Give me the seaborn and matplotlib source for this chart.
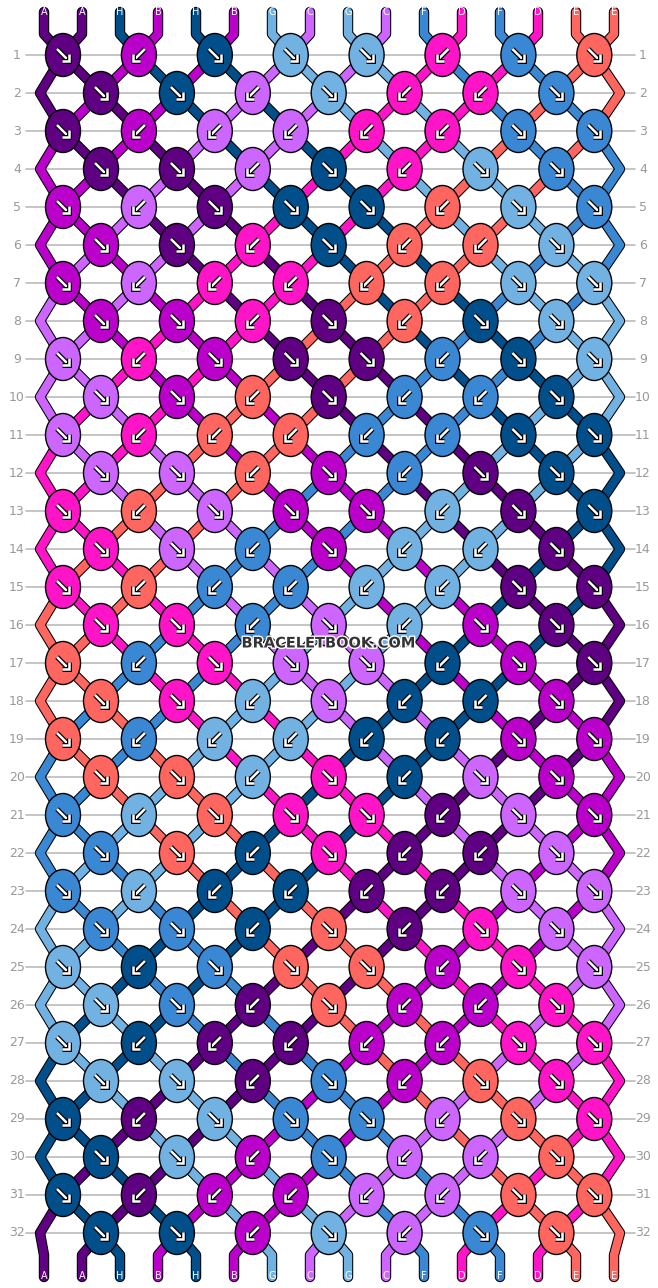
import matplotlib
matplotlib.use("Agg")
import matplotlib.pyplot as plt
import matplotlib.patheffects as pe
from matplotlib.patches import Ellipse
import seaborn as sns

# strings, left to right, as they enter the pattern
strings = ["A", "A", "H", "B", "H", "B", "G", "C", "G", "C", "F", "D", "F", "D", "E", "E"]
colors = {
    "A": "#5f0082", "H": "#004e8a", "B": "#bb00cc", "G": "#72b2e2",
    "C": "#cc66ff", "F": "#3a88d4", "D": "#ff14c8", "E": "#ff6660",
}
# knot arrows per row: R = forward (↘), L = backward (↙)
rows = [
    "RLRRRLRR", "RRLRLLR", "RLLLLLRR", "RRLRLRR",
    "RLRRRLRR", "RRLRLLR", "RLLLLLRR", "RRLRLRR",
    "RLRRRLRR", "RRLRLLR", "RLLLLLRR", "RRLRLRR",
    "RLRRRLRR", "RRLRLLR", "RLLLLLRR", "RRLRLRR",
    "RLRRRLRR", "RRLRLLR", "RLLLLLRR", "RRLRLRR",
    "RLRRRLRR", "RRLRLLR", "RLLLLLRR", "RRLRLRR",
    "RLRRRLRR", "RRLRLLR", "RLLLLLRR", "RRLRLRR",
    "RLRRRLRR", "RRLRLLR", "RLLLLLRR", "RRLRLRR",
]

sns.set_theme(style="white")
fig = plt.figure(figsize=(6.58, 12.88), dpi=100)
ax = fig.add_axes([0, 0, 1, 1])
ax.set_xlim(0, 658)
ax.set_ylim(1288, 0)
ax.axis("off")

def row_y(r):
    return 55 + 38 * r

def knot_x(r, k):
    return (63 if r % 2 == 0 else 101) + 75.9 * k

def slot_x(p):
    return 44 + 38 * p

# simulate
order = list(range(16))  # order[p] = string index at position p
paths = {i: [(slot_x(i), 12), (slot_x(i), 34)] for i in range(16)}
knots = []
for r, arrows in enumerate(rows):
    y = row_y(r)
    if r % 2 == 1:
        paths[order[0]].append((40, y))
        paths[order[15]].append((620, y))
    offset = 0 if r % 2 == 0 else 1
    new = order[:]
    for k, a in enumerate(arrows):
        p = offset + 2 * k
        left, right = order[p], order[p + 1]
        x = knot_x(r, k)
        paths[left].append((x, y))
        paths[right].append((x, y))
        c = strings[left] if a == "R" else strings[right]
        knots.append((x, y, colors[c], a))
        new[p], new[p + 1] = right, left
    order = new
for p, i in enumerate(order):
    paths[i] += [(slot_x(p), 1255), (slot_x(p), 1277)]

# row guides and numbers
for r in range(len(rows)):
    y = row_y(r)
    ax.plot([26, 635], [y, y], color="#bbbbbb", lw=1.2, zorder=0)
    ax.text(17, y, str(r + 1), ha="center", va="center", color="#999999", fontsize=9)
    ax.text(643, y, str(r + 1), ha="center", va="center", color="#999999", fontsize=9)

# threads
for i in range(16):
    xs, ys = zip(*paths[i])
    ax.plot(xs, ys, color="black", lw=7.5, solid_capstyle="round", solid_joinstyle="round", zorder=1)
    ax.plot(xs, ys, color=colors[strings[i]], lw=6, solid_capstyle="round", solid_joinstyle="round", zorder=2)
    ax.text(slot_x(i), 12, strings[i], ha="center", va="center", color="white", fontsize=7, zorder=3)
for p, i in enumerate(order):
    ax.text(slot_x(p), 1276, strings[i], ha="center", va="center", color="white", fontsize=7, zorder=3)

# knots
stroke = [pe.Stroke(linewidth=3.6, foreground="black"), pe.Normal()]
for x, y, c, a in knots:
    ax.add_patch(Ellipse((x, y), 35, 43, facecolor=c, edgecolor="black", lw=1, zorder=4))
    d = 1 if a == "R" else -1
    sx, ex = x - 6 * d, x + 6 * d
    sy, ey = y - 6, y + 6
    ax.plot([sx, ex], [sy, ey], color="white", lw=1.8, solid_capstyle="butt",
            zorder=5, path_effects=stroke)
    ax.plot([ex - 7 * d, ex, ex], [ey, ey, ey - 7], color="white", lw=1.8,
            solid_joinstyle="miter", solid_capstyle="butt", zorder=6, path_effects=stroke)

ax.text(329, 643, "BRACELETBOOK.COM", ha="center", va="center", fontsize=10.5,
        fontweight="bold", color="#333333", zorder=7,
        path_effects=[pe.withStroke(linewidth=2, foreground="white")])

fig.savefig("out.png", dpi=100)
